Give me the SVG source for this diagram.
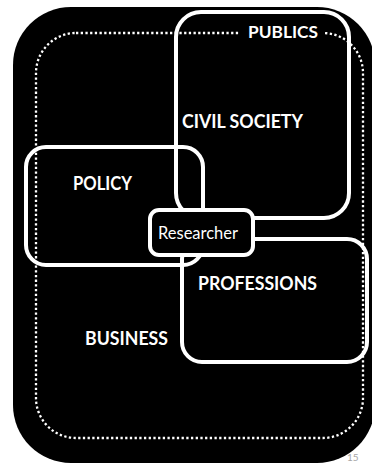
<svg xmlns="http://www.w3.org/2000/svg" width="372" height="467" viewBox="0 0 372 467">
  <style>
    .frame { fill: none; stroke: #ffffff; stroke-width: 4; }
    .lbl { font-family: Lato, "Liberation Sans", sans-serif; font-weight: bold; fill: #ffffff; }
    .dots { fill: none; stroke: #ffffff; stroke-width: 2.3; stroke-dasharray: 2.3 2.4; }
  </style>
  <rect width="372" height="467" fill="#ffffff"/>
  <g id="background">
    <rect x="13" y="7" width="362" height="456" rx="58" fill="#000000"/>
  </g>
  <g id="publics">
    <rect class="dots" x="36" y="33" width="327" height="405" rx="40"/>
    <rect x="239" y="24" width="86" height="18" fill="#000000"/>
    <text class="lbl" x="248" y="38" font-size="17.5" textLength="70" lengthAdjust="spacingAndGlyphs">PUBLICS</text>
  </g>
  <g id="civil-society">
    <rect class="frame" x="176" y="12" width="173" height="206" rx="25"/>
    <text class="lbl" x="182" y="128" font-size="19.5" textLength="121" lengthAdjust="spacingAndGlyphs">CIVIL SOCIETY</text>
  </g>
  <g id="policy">
    <rect class="frame" x="26" y="147" width="177" height="118" rx="20"/>
    <text class="lbl" x="73" y="189.5" font-size="19" textLength="59" lengthAdjust="spacingAndGlyphs">POLICY</text>
  </g>
  <g id="professions">
    <rect class="frame" x="182" y="239" width="185" height="123" rx="20"/>
    <text class="lbl" x="198" y="290" font-size="19" textLength="119" lengthAdjust="spacingAndGlyphs">PROFESSIONS</text>
  </g>
  <g id="business">
    <text class="lbl" x="85" y="345" font-size="19" textLength="83" lengthAdjust="spacingAndGlyphs">BUSINESS</text>
  </g>
  <g id="researcher">
    <rect x="150" y="210" width="103" height="45" rx="9" fill="#000000" stroke="#ffffff" stroke-width="4"/>
    <text x="158" y="239" font-family="Lato, 'Liberation Sans', sans-serif" font-size="17" fill="#ffffff" textLength="80" lengthAdjust="spacingAndGlyphs">Researcher</text>
  </g>
  <g id="page-number">
    <text x="347" y="461" font-family="Lato, 'Liberation Sans', sans-serif" font-size="10" fill="#a6a6a6">15</text>
  </g>
</svg>
